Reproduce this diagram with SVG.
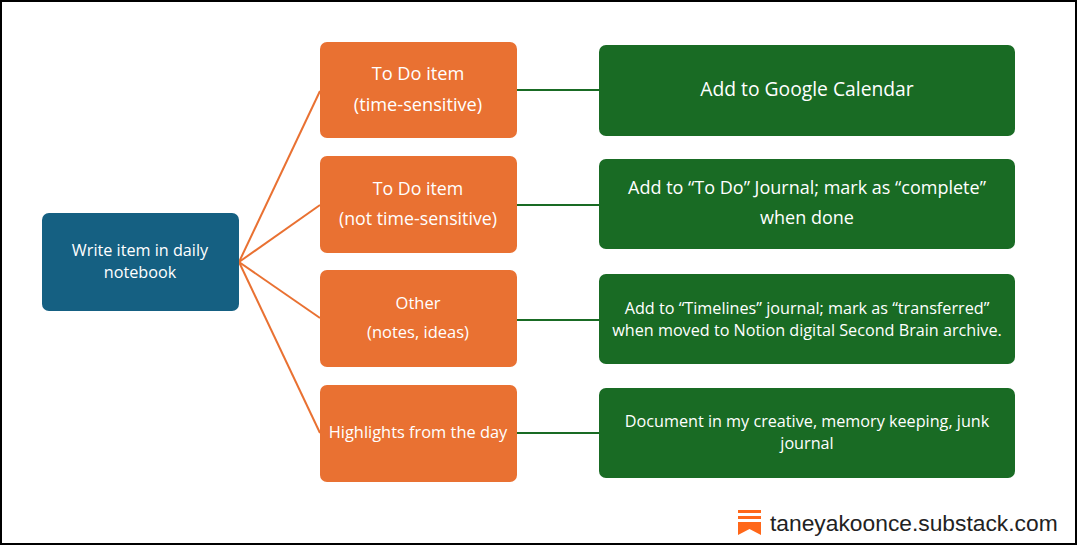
<svg xmlns="http://www.w3.org/2000/svg" width="1077" height="545" viewBox="0 0 1077 545">
<style>
.t{font-family:"Open Sans","Noto Sans","Liberation Sans",sans-serif;fill:#ffffff;text-anchor:middle}
.o{fill:#E97132}
.g{fill:#196B24}
.oc{stroke:#E97132;stroke-width:2;fill:none}
.gc{stroke:#196B24;stroke-width:2;fill:none}
</style>
<rect x="1" y="1" width="1075" height="543" fill="#ffffff" stroke="#000000" stroke-width="2"/>
<g id="connectors">
<line class="oc" x1="239" y1="262" x2="320" y2="91"/>
<line class="oc" x1="239" y1="262" x2="320" y2="205"/>
<line class="oc" x1="239" y1="262" x2="320" y2="318"/>
<line class="oc" x1="239" y1="262" x2="320" y2="433"/>
<line class="gc" x1="517" y1="90" x2="599" y2="90"/>
<line class="gc" x1="517" y1="205" x2="599" y2="205"/>
<line class="gc" x1="517" y1="320" x2="599" y2="320"/>
<line class="gc" x1="517" y1="433" x2="599" y2="433"/>
</g>
<g id="start">
<rect x="42" y="213" width="197" height="98" rx="7" fill="#156082"/>
<text class="t" x="140" y="256" font-size="16.2">Write item in daily</text>
<text class="t" x="140" y="278" font-size="16.2">notebook</text>
</g>
<g id="todo-time">
<rect class="o" x="320" y="42" width="197" height="96" rx="7"/>
<text class="t" x="418" y="80" font-size="18.2">To Do item</text>
<text class="t" x="418" y="111" font-size="18.2">(time-sensitive)</text>
</g>
<g id="todo-nottime">
<rect class="o" x="320" y="156" width="197" height="97" rx="7"/>
<text class="t" x="418" y="195" font-size="17.8">To Do item</text>
<text class="t" x="418" y="225" font-size="17.8">(not time-sensitive)</text>
</g>
<g id="other">
<rect class="o" x="320" y="270" width="197" height="97" rx="7"/>
<text class="t" x="418" y="309" font-size="16.5">Other</text>
<text class="t" x="418" y="338" font-size="16.5">(notes, ideas)</text>
</g>
<g id="highlights">
<rect class="o" x="320" y="385" width="197" height="97" rx="7"/>
<text class="t" x="418" y="438" font-size="16.4">Highlights from the day</text>
</g>
<g id="calendar">
<rect class="g" x="599" y="45" width="416" height="91" rx="7"/>
<text class="t" x="807" y="96" font-size="19.3">Add to Google Calendar</text>
</g>
<g id="todo-journal">
<rect class="g" x="599" y="159" width="416" height="90" rx="7"/>
<text class="t" x="807" y="194" font-size="18">Add to “To Do” Journal; mark as “complete”</text>
<text class="t" x="807" y="224" font-size="18">when done</text>
</g>
<g id="timelines">
<rect class="g" x="599" y="274" width="416" height="90" rx="7"/>
<text class="t" x="807" y="314" font-size="16.2">Add to “Timelines” journal; mark as “transferred”</text>
<text class="t" x="807" y="336" font-size="16.2">when moved to Notion digital Second Brain archive.</text>
</g>
<g id="document">
<rect class="g" x="599" y="388" width="416" height="90" rx="7"/>
<text class="t" x="807" y="427" font-size="16.2">Document in my creative, memory keeping, junk</text>
<text class="t" x="807" y="449" font-size="16.2">journal</text>
</g>
<g id="logo">
<rect x="738" y="510" width="23" height="3" fill="#FF6719"/>
<rect x="738" y="516" width="23" height="3" fill="#FF6719"/>
<path d="M738 522 H761 V535 L749.5 529 L738 535 Z" fill="#FF6719"/>
<text x="770" y="531" font-family="'Liberation Sans',Arial,sans-serif" font-size="22.8" fill="#222222">taneyakoonce.substack.com</text>
</g>
</svg>
